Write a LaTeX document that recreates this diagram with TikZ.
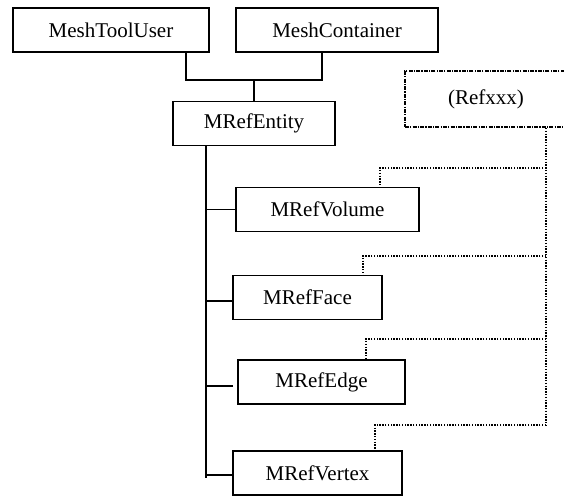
\documentclass[tikz,border=0pt]{standalone}
\usepackage{fontspec}
\setmainfont{Liberation Serif}
\usetikzlibrary{positioning}

\begin{document}
\begin{tikzpicture}[x=1pt,y=-1pt,
    cls/.style={draw, line width=1.8pt, inner sep=0pt, minimum height=44pt, font=\fontsize{21}{25}\selectfont},
    link/.style={line width=1.8pt},
    refline/.style={line width=1.5pt, dash pattern=on 1.4pt off 1.4pt}]
      \useasboundingbox (0,0) rectangle (564,495);
      \node [cls, minimum width=196pt] (tooluser) at (111,30) {MeshToolUser};
      \node [cls, minimum width=202pt] (container) at (337,30) {MeshContainer};
      \node [cls, minimum width=162pt] (entity) at (254,123.5) {MRefEntity};
      \node [cls, minimum width=183pt] (volume) at (327.5,209.5) {MRefVolume};
      \node [cls, minimum width=149pt] (face) at (307.5,297.5) {MRefFace};
      \node [cls, minimum width=167pt] (edge) at (321.5,382) {MRefEdge};
      \node [cls, minimum width=169pt] (vertex) at (317.5,473) {MRefVertex};
      \node [draw, line width=2pt, dash pattern=on 4pt off 1.2pt on 1.2pt off 1.2pt,
             inner sep=0pt, minimum width=162pt, minimum height=56pt,
             font=\fontsize{21}{25}\selectfont] (refxxx) at (486,99) {(Refxxx)};
      % inheritance tree
      \coordinate (join) at (254,80);
      \coordinate (trunk) at (206,478);
      \draw [link] ([xshift=75pt]tooluser.south) |- (join) -| ([xshift=-15pt]container.south);
      \draw [link] (join) -- (entity.north);
      \draw [link] (entity.south -| trunk) -- (trunk);
      \draw [link] (volume.west) -- (volume.west -| trunk);
      \draw [link] ([yshift=-3.5pt]face.west) -- ([yshift=-3.5pt]face.west -| trunk);
      \draw [link] ([xshift=-4pt,yshift=-4pt]edge.west) -- ([yshift=-4pt]edge.west -| trunk);
      \draw [link] ([yshift=-2pt]vertex.west) -- ([yshift=-2pt]vertex.west -| trunk);
      % references
      \coordinate (rbus) at (546,425);
      \coordinate (rvol) at (546,168);
      \coordinate (rface) at (546,256);
      \coordinate (redge) at (546,339);
      \draw [refline] (refxxx.south -| rbus) -- (rbus);
      \draw [refline] (rvol) -| ([xshift=52.5pt]volume.north);
      \draw [refline] (rface) -| ([xshift=55.5pt]face.north);
      \draw [refline] (redge) -| ([xshift=44.5pt]edge.north);
      \draw [refline] (rbus) -| ([xshift=57.5pt]vertex.north);
\end{tikzpicture}
\end{document}
